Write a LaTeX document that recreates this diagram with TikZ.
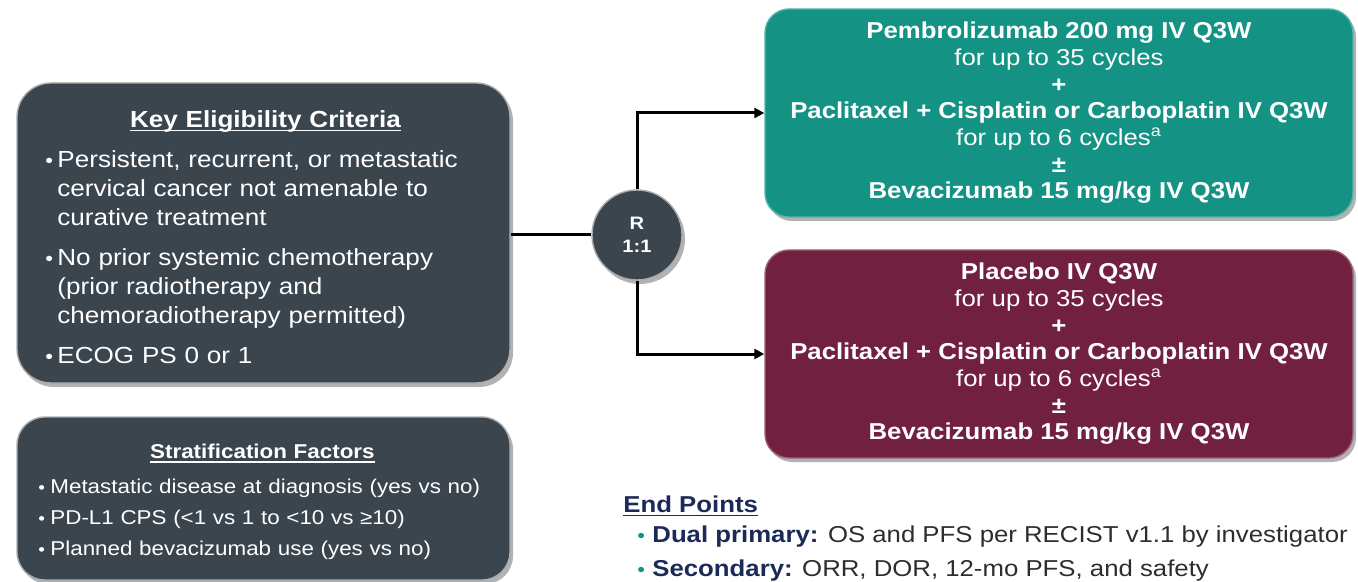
\documentclass[tikz,border=0pt]{standalone}
\usepackage{fontspec}
\setmainfont{Liberation Sans}[FakeStretch=1.12]
\usetikzlibrary{shadows,arrows.meta}

\definecolor{slate}{RGB}{58,69,78}
\definecolor{armteal}{RGB}{20,147,133}
\definecolor{armmaroon}{RGB}{114,32,64}
\definecolor{navy}{RGB}{27,42,88}
\definecolor{bodygray}{RGB}{45,45,45}

% bullet in a fixed-width box
\newcommand{\bul}[1][6pt]{\makebox[#1][l]{\scalebox{0.85}{•}}}
% heading underline at a fixed depth
\newcommand{\uln}[1]{\setbox0\hbox{#1}\rlap{\rule[-2pt]{\wd0}{0.7pt}}\box0}

\begin{document}
\begin{tikzpicture}[x=0.5pt,y=-0.5pt,
  lifted/.style={drop shadow={shadow xshift=1.5pt,shadow yshift=-2pt,opacity=0.3,fill=black}},
  panel/.style={rounded corners=#1,fill=slate,draw=gray!65,line width=0.7pt,lifted,minimum width=246.5pt},
  arm/.style={rounded corners=12pt,fill=#1,draw=#1!70!white,line width=0.7pt,lifted,
    minimum width=294pt,minimum height=104pt,align=center,text=white,
    font=\fontsize{11.5}{13.35}\selectfont},
  plain/.style={anchor=base west,inner sep=0pt,font=\fontsize{11.5}{14}\selectfont},
  link/.style={line width=1.5pt},
  arrow/.style={link,-{Triangle[length=5pt,width=5pt]}}]
  \useasboundingbox (0,0) rectangle (1358,582);
  \clip (0,0) rectangle (1358,582);

  % left column
  \node[panel=17pt,minimum height=150pt] (elig) at (263.5,233) {};
  \node[anchor=north west,inner sep=0pt,text width=220pt,align=left,text=white,
    font=\fontsize{11.65}{14.5}\selectfont] (eligtext) at (45,110) {%
    {\centering\bfseries\uln{Key Eligibility Criteria}\par}\vspace{5.5pt}
    \bul Persistent, recurrent, or metastatic\\
    \hspace*{6pt}cervical cancer not amenable to\\
    \hspace*{6pt}curative treatment\par\vspace{5.5pt}
    \bul No prior systemic chemotherapy\\
    \hspace*{6pt}(prior radiotherapy and\\
    \hspace*{6pt}chemoradiotherapy permitted)\par\vspace{5.5pt}
    \bul ECOG PS 0 or 1\par};

  \node[panel=14pt,minimum height=81.5pt] (strat) at (263.5,498.5) {};
  \node[anchor=north west,inner sep=0pt,text width=224pt,align=left,text=white,
    font=\fontsize{10}{15.5}\selectfont] (strattext) at (38,444) {%
    {\centering\bfseries\uln{Stratification Factors}\par}\vspace{2pt}
    \mbox{\bul Metastatic disease at diagnosis (yes vs no)}\\
    \mbox{\bul PD-L1 CPS (<1 vs 1 to <10 vs ≥10)}\\
    \mbox{\bul Planned bevacizumab use (yes vs no)}\par};

  % randomisation and arms
  \node[circle,fill=slate,draw=gray!65,line width=0.7pt,lifted,minimum size=45pt,inner sep=0pt,
    align=center,text=white,font=\bfseries\fontsize{9}{11.5}\selectfont] (rand) at (637,235) {R\\1:1};

  \node[arm=armteal] (pembro) at (1059,113) {%
    \textbf{Pembrolizumab 200 mg IV Q3W}\\
    for up to 35 cycles\\
    \textbf{+}\\
    \textbf{Paclitaxel + Cisplatin or Carboplatin IV Q3W}\\
    for up to 6 cycles\textsuperscript{a}\\
    \textbf{±}\\
    \textbf{Bevacizumab 15 mg/kg IV Q3W}};
  \node[arm=armmaroon] (placebo) at (1059,354) {%
    \textbf{Placebo IV Q3W}\\
    for up to 35 cycles\\
    \textbf{+}\\
    \textbf{Paclitaxel + Cisplatin or Carboplatin IV Q3W}\\
    for up to 6 cycles\textsuperscript{a}\\
    \textbf{±}\\
    \textbf{Bevacizumab 15 mg/kg IV Q3W}};

  \draw[link] (elig.east |- rand.west) -- (rand.west);
  \draw[arrow] (rand.north) |- (pembro.west);
  \draw[arrow] (rand.south) |- (placebo.west);

  % end points
  \node[plain,font=\bfseries\fontsize{11.5}{14}\selectfont,text=navy] (ends) at (623,512) {\uln{End Points}};
  \node[plain,text=bodygray] (prim) at (637,542)
    {\textcolor{armteal}{\bul[7.5pt]}\textbf{\textcolor{navy}{Dual primary:}} OS and PFS per RECIST v1.1 by investigator};
  \node[plain,text=bodygray] (second) at (637,576)
    {\textcolor{armteal}{\bul[7.5pt]}\textbf{\textcolor{navy}{Secondary:}} ORR, DOR, 12-mo PFS, and safety};
\end{tikzpicture}
\end{document}
